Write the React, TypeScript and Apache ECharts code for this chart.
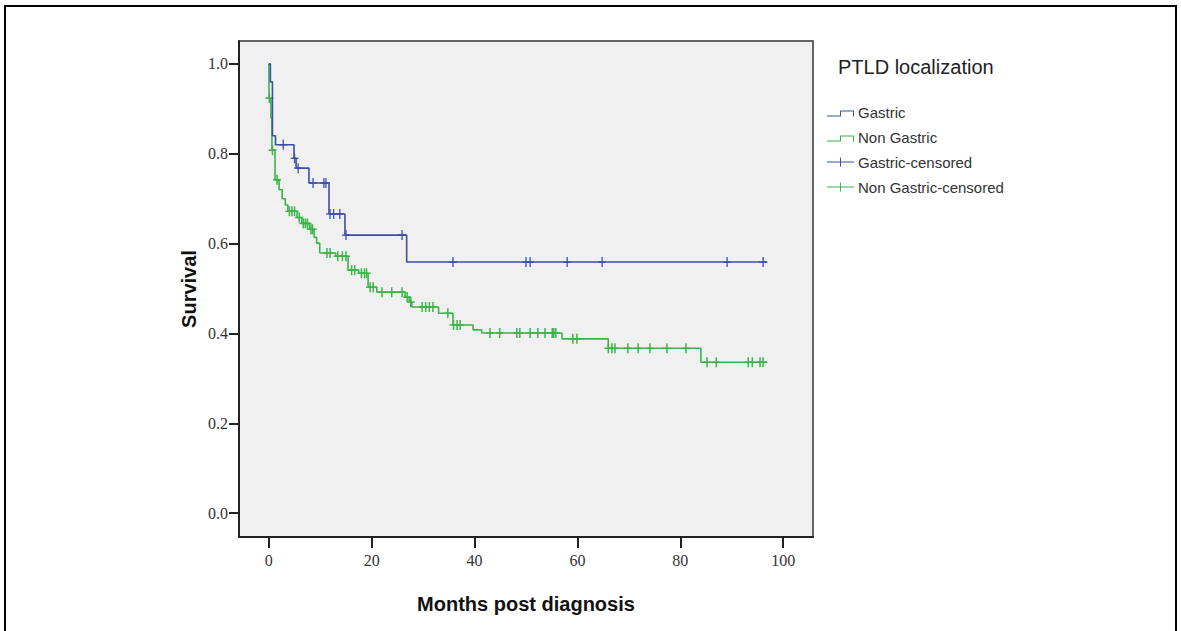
import React, { useEffect, useRef } from "react";
import * as echarts from "echarts";

// ---- Data ----
const xTicks = [0, 20, 40, 60, 80, 100];
const yTicks = [0, 0.2, 0.4, 0.6, 0.8, 1.0];

// Kaplan-Meier steps: [time (months), survival after that time]
const gastricSteps: [number, number][] = [
  [0, 1.0], [0.3, 0.96], [0.7, 0.84], [1.3, 0.82], [4.9, 0.79], [5.3, 0.768],
  [7.8, 0.735], [11.7, 0.666], [14.8, 0.619], [26.8, 0.559], [96.9, 0.559],
];
const gastricCensored: [number, number][] = [
  [2.8, 0.82], [5.0, 0.79], [5.7, 0.768], [8.6, 0.735], [10.7, 0.735], [11.1, 0.735],
  [11.9, 0.666], [12.6, 0.666], [13.8, 0.666], [15.0, 0.619], [25.9, 0.619],
  [35.8, 0.559], [50.0, 0.559], [50.8, 0.559], [58.0, 0.559], [64.8, 0.559],
  [89.1, 0.559], [96.1, 0.559],
];

const nonGastricSteps: [number, number][] = [
  [0, 1.0], [0.05, 0.924], [0.4, 0.88], [0.6, 0.808], [1.2, 0.742], [2.0, 0.72],
  [2.6, 0.7], [3.2, 0.686], [3.7, 0.672], [5.5, 0.658], [6.4, 0.645], [7.9, 0.632],
  [8.8, 0.614], [9.3, 0.601], [9.9, 0.579], [13.0, 0.572], [15.4, 0.541], [17.5, 0.534],
  [19.3, 0.503], [21.0, 0.492], [26.5, 0.481], [27.3, 0.47], [27.8, 0.459], [33.0, 0.445],
  [35.8, 0.419], [39.7, 0.408], [41.4, 0.401], [57.0, 0.388], [66.0, 0.367], [84.0, 0.336],
  [96.9, 0.336],
];
const nonGastricCensored: [number, number][] = [
  [0.1, 0.924], [0.7, 0.808], [1.6, 0.742], [4.0, 0.672], [4.5, 0.672], [5.0, 0.672],
  [5.9, 0.658], [6.7, 0.645], [7.1, 0.645], [7.5, 0.645], [8.2, 0.632], [8.5, 0.632],
  [11.3, 0.579], [11.9, 0.579], [13.4, 0.572], [14.3, 0.572], [15.0, 0.572],
  [16.1, 0.541], [16.7, 0.541], [18.0, 0.534], [18.6, 0.534], [19.0, 0.534],
  [19.7, 0.503], [20.3, 0.503], [22.0, 0.492], [23.9, 0.492], [25.9, 0.492],
  [26.9, 0.481], [27.6, 0.47], [29.8, 0.459], [30.5, 0.459], [31.2, 0.459], [31.9, 0.459],
  [34.8, 0.445], [35.9, 0.419], [36.6, 0.419], [37.2, 0.419],
  [43.0, 0.401], [44.9, 0.401], [48.2, 0.401], [48.8, 0.401], [50.8, 0.401], [52.3, 0.401],
  [53.7, 0.401], [55.1, 0.401], [55.4, 0.401], [55.8, 0.401],
  [59.1, 0.388], [59.9, 0.388],
  [66.0, 0.367], [66.7, 0.367], [67.3, 0.367], [69.8, 0.367], [71.8, 0.367], [74.1, 0.367],
  [77.4, 0.367], [81.1, 0.367],
  [85.2, 0.336], [87.0, 0.336], [93.2, 0.336], [94.0, 0.336], [95.5, 0.336], [96.1, 0.336],
];

const BLUE = "#3b4ea8";
const GREEN = "#3cb44a";
const SANS = "'Liberation Sans', Arial, sans-serif";
const SERIF = "'Liberation Serif', 'Times New Roman', serif";

const stepIcon = "path://M0,0 L0.01,0 Z M0,8 L13,8 L13,3 L27,3 L27,9 L26,9 L26,4 L14,4 L14,9 L0,9 Z M27,0 L26.99,0 Z";
const crossIcon = "path://M0,4 L27,4 L27,5 L0,5 Z M13,0 L14,0 L14,9 L13,9 Z";

function censorSeries(name: string, data: [number, number][], color: string, width: number) {
  return {
    name,
    type: "custom",
    data,
    itemStyle: { color },
    encode: { x: 0, y: 1 },
    renderItem: (_params: any, api: any) => {
      const p = api.coord([api.value(0), api.value(1)]);
      const style = { stroke: color, lineWidth: width, fill: "none" };
      return {
        type: "group",
        children: [
          { type: "line", shape: { x1: p[0], y1: p[1] - 5, x2: p[0], y2: p[1] + 5 }, style },
          { type: "line", shape: { x1: p[0] - 4, y1: p[1], x2: p[0] + 4, y2: p[1] }, style },
        ],
      };
    },
  };
}

export default function App() {
  const ref = useRef<HTMLDivElement>(null);

  useEffect(() => {
    if (!ref.current) return;
    const chart = echarts.init(ref.current, undefined, { renderer: "svg" });
    chart.setOption({
      animation: false,
      backgroundColor: "#ffffff",
      title: {
        text: "PTLD localization",
        left: 838,
        top: 57,
        padding: 0,
        textStyle: { fontFamily: SANS, fontSize: 20, fontWeight: "normal", color: "#222" },
      },
      legend: {
        orient: "vertical",
        left: 827,
        top: 104,
        padding: 0,
        itemWidth: 27,
        itemHeight: 9,
        itemGap: 9,
        textStyle: { fontFamily: SANS, fontSize: 15, color: "#333", lineHeight: 16, padding: [0, 0, 0, -1] },
        data: [
          { name: "Gastric", icon: stepIcon },
          { name: "Non Gastric", icon: stepIcon },
          { name: "Gastric-censored", icon: crossIcon },
          { name: "Non Gastric-censored", icon: crossIcon },
        ],
      },
      graphic: [
        {
          type: "rect",
          silent: true,
          z: -10,
          shape: { x: 5, y: 6, width: 1171, height: 660 },
          style: { fill: "none", stroke: "#000", lineWidth: 2 },
        },
      ],
      grid: {
        left: 239,
        top: 41,
        width: 574,
        height: 496,
        show: true,
        backgroundColor: "#f0f0f0",
        borderColor: "#333",
        borderWidth: 1.5,
      },
      xAxis: {
        type: "value",
        min: -5.8,
        max: 105.8,
        name: "Months post diagnosis",
        nameLocation: "middle",
        nameGap: 57,
        nameTextStyle: { fontFamily: SANS, fontSize: 20, fontWeight: "bold", color: "#111" },
        axisLine: { show: true, onZero: false, lineStyle: { color: "#222", width: 2 } },
        axisTick: { show: true, length: 11, customValues: xTicks, lineStyle: { color: "#222", width: 2 } },
        axisLabel: {
          customValues: xTicks,
          margin: 15,
          fontFamily: SERIF,
          fontSize: 16,
          color: "#333",
          formatter: (v: number) => String(v),
        },
        splitLine: { show: false },
      },
      yAxis: {
        type: "value",
        min: -0.053,
        max: 1.051,
        name: "Survival",
        nameLocation: "middle",
        nameGap: 40,
        nameTextStyle: { fontFamily: SANS, fontSize: 20, fontWeight: "bold", color: "#111" },
        axisLine: { show: true, onZero: false, lineStyle: { color: "#222", width: 2 } },
        axisTick: { show: true, length: 10, customValues: yTicks, lineStyle: { color: "#222", width: 2 } },
        axisLabel: {
          customValues: yTicks,
          margin: 11,
          fontFamily: SERIF,
          fontSize: 16,
          color: "#333",
          padding: [6, 0, 0, 0],
          formatter: (v: number) => v.toFixed(1),
        },
        splitLine: { show: false },
      },
      series: [
        {
          name: "Gastric",
          type: "line",
          step: "end",
          data: gastricSteps,
          showSymbol: false,
          symbol: "none",
          itemStyle: { color: BLUE },
          lineStyle: { color: BLUE, width: 1.6 },
          z: 3,
        },
        {
          name: "Non Gastric",
          type: "line",
          step: "end",
          data: nonGastricSteps,
          showSymbol: false,
          symbol: "none",
          itemStyle: { color: GREEN },
          lineStyle: { color: GREEN, width: 1.6 },
          z: 2,
        },
        censorSeries("Gastric-censored", gastricCensored, BLUE, 1.3),
        censorSeries("Non Gastric-censored", nonGastricCensored, GREEN, 1.5),
      ],
    });
    return () => chart.dispose();
  }, []);

  return (
    <div
      ref={ref}
      style={{ position: "fixed", left: 0, top: 0, width: 1181, height: 631, background: "#fff" }}
    />
  );
}
